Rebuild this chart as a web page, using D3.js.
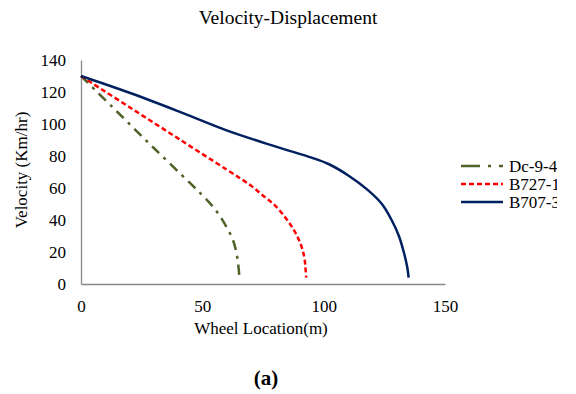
<!DOCTYPE html>
<html><head><meta charset="utf-8">
<script src="https://cdn.jsdelivr.net/npm/d3@7"></script>
<style>body{margin:0;background:#fff}svg{display:block}</style>
</head><body>
<div id="chart"></div>
<script>
const title = "Velocity-Displacement";
const xTicks = [0, 50, 100, 150];
const yTicks = [0, 20, 40, 60, 80, 100, 120, 140];
const seriesNames = ["Dc-9-4", "B727-1", "B707-3"];
const dc9Pos = [0, 15, 30, 45, 50, 54, 57, 60, 62.5, 64, 64.8, 65.3];
const dc9Vel = [130, 107.5, 85, 63, 55.5, 49, 43, 35.5, 28, 20, 12, 4];
const b727Pos = [0, 20, 40, 60, 70, 76, 80, 84.5, 88, 90.5, 92, 92.5, 92.8];
const b727Vel = [130, 110.5, 91, 71.5, 61.5, 54, 49, 41, 33, 25, 17, 10, 4];
const b707Pos = [0, 20, 40, 60, 80, 95, 102, 110, 118, 124, 128, 131, 133, 134.5, 135];
const b707Vel = [130, 119.5, 108, 96, 86, 79, 75, 68, 59, 50, 40, 30, 20, 10, 4];

const W = 576, H = 394;
const svg = d3.select("#chart").append("svg").attr("width", W).attr("height", H);
const font = "'Liberation Serif','Times New Roman',serif";

const x = d3.scaleLinear().domain([0, 150]).range([81, 445]);
const y = d3.scaleLinear().domain([0, 140]).range([284, 60]);

// axes
const xAxis = svg.append("g").attr("transform", `translate(0,${y(0)})`)
  .call(d3.axisBottom(x).tickValues(xTicks).tickSize(0).tickPadding(16));
const yAxis = svg.append("g").attr("transform", `translate(${x(0)},0)`)
  .call(d3.axisLeft(y).tickValues(yTicks).tickSize(0).tickPadding(15));
[xAxis, yAxis].forEach(g => {
  g.select(".domain").attr("stroke", "#888").attr("stroke-width", 1.3);
  g.selectAll("text").attr("font-family", font).attr("font-size", 17).attr("fill", "#000");
});
xAxis.selectAll("text").attr("dy", "0.71em");

const series = [
  {name: seriesNames[0], pos: dc9Pos, vel: dc9Vel, color: "#4F6228", dash: "10,6,3,6"},
  {name: seriesNames[1], pos: b727Pos, vel: b727Vel, color: "#FF0000", dash: "5,3"},
  {name: seriesNames[2], pos: b707Pos, vel: b707Vel, color: "#002060", dash: null}
];

const line = d3.line().x(d => x(d[0])).y(d => y(d[1])).curve(d3.curveCatmullRom.alpha(0.5));
series.forEach(s => {
  const pts = s.pos.map((p, i) => [p, s.vel[i]]);
  svg.append("path").datum(pts).attr("d", line)
    .attr("fill", "none").attr("stroke", s.color).attr("stroke-width", 2.5)
    .attr("stroke-dasharray", s.dash);
});

// title & labels
svg.append("text").attr("x", 288).attr("y", 24).attr("text-anchor", "middle")
  .attr("font-family", font).attr("font-size", 19.5).text(title);
svg.append("text").attr("x", 261).attr("y", 334).attr("text-anchor", "middle")
  .attr("font-family", font).attr("font-size", 17).text("Wheel Location(m)");
svg.append("text").attr("transform", `translate(27,170) rotate(-90)`).attr("text-anchor", "middle")
  .attr("font-family", font).attr("font-size", 17).text("Velocity (Km/hr)");
svg.append("text").attr("x", 266).attr("y", 385).attr("text-anchor", "middle")
  .attr("font-family", font).attr("font-size", 21).attr("font-weight", "bold").text("(a)");

// legend
svg.append("clipPath").attr("id", "lc").append("rect").attr("x", 440).attr("y", 140).attr("width", 117).attr("height", 80);
const leg = svg.append("g").attr("clip-path", "url(#lc)");
series.forEach((s, i) => {
  const ly = 166 + i * 18;
  leg.append("line").attr("x1", 461).attr("x2", 503).attr("y1", ly).attr("y2", ly)
    .attr("stroke", s.color).attr("stroke-width", 2.5).attr("stroke-dasharray", s.dash ? (i === 0 ? "19,8,3,8" : "5,3") : null);
  leg.append("text").attr("x", 509).attr("y", ly + 6).attr("font-family", font).attr("font-size", 17).text(s.name);
});
</script>
</body></html>
